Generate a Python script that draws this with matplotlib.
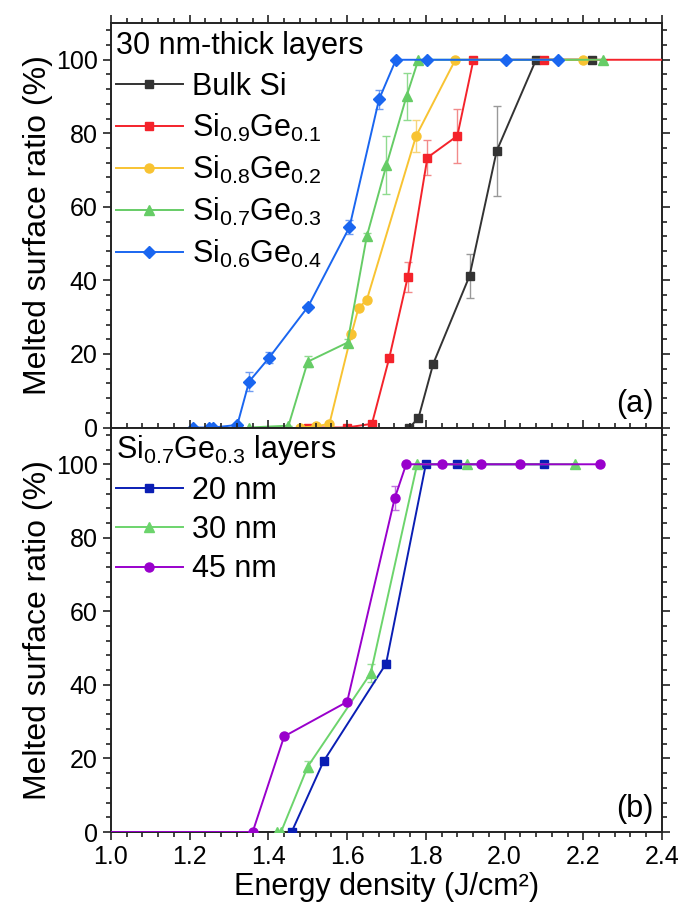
import numpy as np
import matplotlib
matplotlib.use("Agg")
import matplotlib.pyplot as plt
from matplotlib.ticker import MultipleLocator

plt.rcParams['font.family'] = ['Liberation Sans', 'DejaVu Sans']
plt.rcParams['mathtext.fontset'] = 'custom'
plt.rcParams['mathtext.rm'] = 'Liberation Sans'
plt.rcParams['mathtext.default'] = 'regular'

# ---- panel (a): 30 nm-thick layers ----
bulk_x = [1.758, 1.781, 1.819, 1.911, 1.980, 2.080, 2.221]
bulk_y = [0, 2.5, 17.4, 41.2, 75.2, 100, 100]
bulk_err = [0, 0, 0, 6.1, 12.2, 0, 0]

si09_x = [1.50, 1.599, 1.663, 1.707, 1.754, 1.804, 1.880, 1.921, 2.10, 2.50]
si09_y = [0, 0, 1, 18.9, 40.9, 73.4, 79.3, 100, 100, 100]
si09_err = [0, 0, 0, 0, 4.0, 4.8, 7.4, 0, 0, 0]

si08_x = [1.48, 1.52, 1.555, 1.611, 1.629, 1.650, 1.775, 1.875, 2.20]
si08_y = [0, 0.3, 1, 25.4, 32.5, 34.7, 79.2, 100, 100]
si08_err = [0, 0, 0, 0, 0, 0, 4.3, 0, 0]

si07_x = [1.351, 1.451, 1.500, 1.601, 1.650, 1.700, 1.751, 1.781, 2.251]
si07_y = [0, 0.5, 17.9, 23.1, 52, 71.4, 90.1, 100, 100]
si07_err = [0, 0, 1.5, 1, 1, 7.8, 6.4, 0, 0]

si06_x = [1.209, 1.250, 1.260, 1.321, 1.351, 1.402, 1.501, 1.606, 1.681, 1.724, 1.802, 2.003, 2.137]
si06_y = [0, 0, 0, 0.7, 12.5, 19.0, 32.9, 54.5, 89.2, 100, 100, 100, 100]
si06_err = [0, 0, 0, 0, 2.6, 1.5, 0, 2, 2.7, 0, 0, 0, 0]

# ---- panel (b): Si0.7Ge0.3 layers of different thickness ----
nm20_x = [1.459, 1.540, 1.699, 1.800, 1.878, 2.100]
nm20_y = [0, 19.2, 45.8, 100, 100, 100]
nm20_err = [0, 0, 1, 0, 0, 0]

nm30_x = [1.421, 1.432, 1.500, 1.660, 1.778, 1.904, 2.180]
nm30_y = [0, 0, 17.8, 43.2, 100, 100, 100]
nm30_err = [0, 0, 1.5, 2.5, 0, 0, 0]

nm45_x = [0.95, 1.360, 1.440, 1.600, 1.721, 1.750, 1.840, 1.940, 2.040, 2.242]
nm45_y = [0, 0, 26.0, 35.4, 90.8, 100, 100, 100, 100, 100]
nm45_err = [0, 0, 0, 0, 3.3, 0, 0, 0, 0, 0]

top_series = [
    (bulk_x, bulk_y, bulk_err, 'Bulk Si', '#333333', '#999999', 's', 6),
    (si09_x, si09_y, si09_err, r'Si$_{0.9}$Ge$_{0.1}$', '#F4232B', '#F28A8A', 's', 6),
    (si08_x, si08_y, si08_err, r'Si$_{0.8}$Ge$_{0.2}$', '#F8C332', '#F6D57A', 'o', 6.5),
    (si07_x, si07_y, si07_err, r'Si$_{0.7}$Ge$_{0.3}$', '#66CC66', '#8FDB8F', '^', 7),
    (si06_x, si06_y, si06_err, r'Si$_{0.6}$Ge$_{0.4}$', '#1A66F0', '#6F9CF2', 'D', 6),
]
bot_series = [
    (nm20_x, nm20_y, nm20_err, '20 nm', '#0A1EB4', '#4A5CCC', 's', 6),
    (nm30_x, nm30_y, nm30_err, '30 nm', '#6CD46C', '#99E099', '^', 7),
    (nm45_x, nm45_y, nm45_err, '45 nm', '#9900CC', '#C070E0', 'o', 6.5),
]


def draw(ax, series):
    for x, y, e, lab, c, ec, m, ms in series:
        ax.errorbar(x, y, yerr=e, fmt='none', ecolor=ec, elinewidth=1.0,
                    capsize=3, capthick=1.0, zorder=2)
        ax.plot(x, y, color=c, marker=m, markersize=ms, lw=1.4, label=lab, zorder=3)


def style(ax):
    ax.set_xlim(1.0, 2.4)
    ax.set_ylim(0, 110)
    ax.xaxis.set_major_locator(MultipleLocator(0.2))
    ax.xaxis.set_minor_locator(MultipleLocator(0.04))
    ax.yaxis.set_major_locator(MultipleLocator(20))
    ax.yaxis.set_minor_locator(MultipleLocator(4))
    ax.tick_params(which='both', direction='out', top=True, right=True,
                   labelsize=18, width=1.2, colors='#222222', labelcolor='black')
    ax.tick_params(which='major', length=6)
    ax.tick_params(which='minor', length=3.5)
    for s in ax.spines.values():
        s.set_linewidth(1.4)
        s.set_color('#222222')
    ax.set_ylabel('Melted surface ratio (%)', fontsize=23, labelpad=2)


fig = plt.figure(figsize=(6.85, 9.09), dpi=100)
ax1 = fig.add_axes([0.162, 0.5297, 0.8044, 0.445])
ax2 = fig.add_axes([0.162, 0.0847, 0.8044, 0.445])

draw(ax1, top_series)
draw(ax2, bot_series)
style(ax1)
style(ax2)
ax1.tick_params(labelbottom=False)
ax1.set_yticks([0, 20, 40, 60, 80, 100])
ax2.set_yticks([0, 20, 40, 60, 80, 100])
ax2.set_xticks(np.arange(1.0, 2.41, 0.2))
ax2.set_xticklabels(['1.0', '1.2', '1.4', '1.6', '1.8', '2.0', '2.2', '2.4'])
ax2.set_xlabel('Energy density (J/cm²)', fontsize=22, labelpad=2)

leg1 = ax1.legend(title='30 nm-thick layers', loc='upper left', bbox_to_anchor=(-0.03, 1.032),
                  frameon=False, fontsize=22, title_fontsize=22, handlelength=2.2,
                  handletextpad=0.3, labelspacing=0.33, borderpad=0.2, alignment='left')
leg2 = ax2.legend(title=r'Si$_{0.7}$Ge$_{0.3}$ layers', loc='upper left', bbox_to_anchor=(-0.03, 1.04),
                  frameon=False, fontsize=22, title_fontsize=22, handlelength=2.2,
                  handletextpad=0.3, labelspacing=0.3, borderpad=0.2, alignment='left')

ax1.text(0.985, 0.02, '(a)', transform=ax1.transAxes, ha='right', va='bottom', fontsize=22)
ax2.text(0.985, 0.02, '(b)', transform=ax2.transAxes, ha='right', va='bottom', fontsize=22)

fig.savefig('out.png', dpi=100)
